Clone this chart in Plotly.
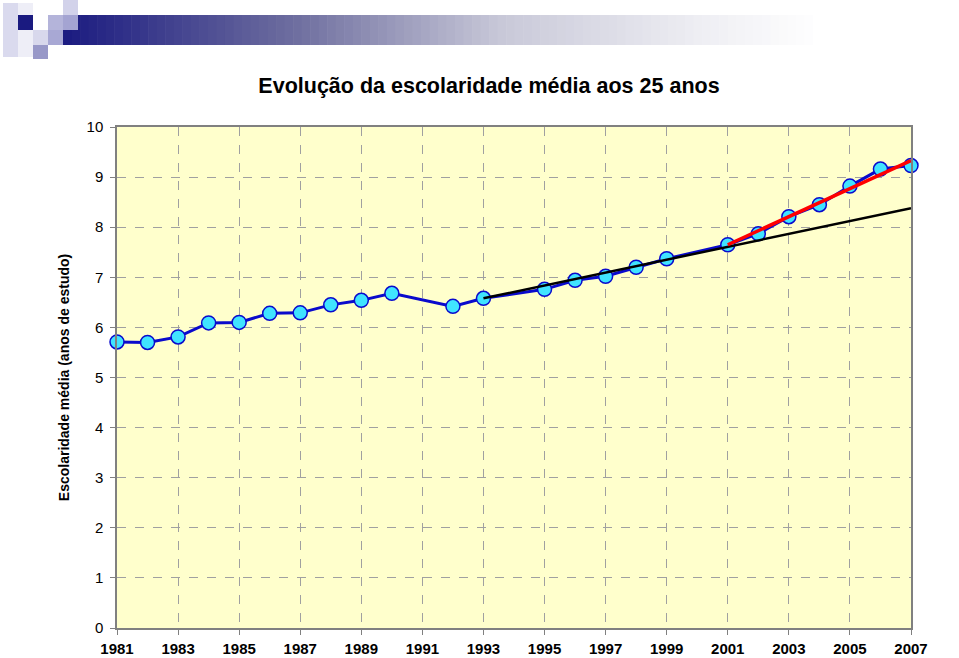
import plotly.graph_objects as go

# ---------------- data ----------------
years = [1981, 1982, 1983, 1984, 1985, 1986, 1987, 1988, 1989, 1990, 1992, 1993,
         1995, 1996, 1997, 1998, 1999, 2001, 2002, 2003, 2004, 2005, 2006, 2007]
schooling = [5.71, 5.70, 5.81, 6.09, 6.10, 6.28, 6.29, 6.45, 6.54, 6.68, 6.42, 6.58,
             6.76, 6.94, 7.02, 7.20, 7.37, 7.65, 7.87, 8.21, 8.45, 8.82, 9.16, 9.23]
trend_black_x = [1993, 2007]
trend_black_y = [6.58, 8.38]
trend_red_x = [2001, 2007]
trend_red_y = [7.65, 9.33]
x_ticks = list(range(1981, 2008, 2))
y_ticks = list(range(0, 11))

title_text = "Evolução da escolaridade média aos 25 anos"
ytitle_text = "Escolaridade média (anos de estudo)"

# ---------------- layout geometry (pixels) ----------------
W, H = 959, 658
L, R, T, B = 117, 911, 127, 628


def px(x):
    return (x - L) / (R - L)


def py(y):
    return (B - y) / (B - T)


fig = go.Figure()

fig.add_trace(go.Scatter(
    x=years, y=schooling, mode="lines+markers",
    line=dict(color="#0A0ACC", width=3),
    marker=dict(size=14, color="#40E4FF", line=dict(color="#0A0ACC", width=1.5)),
    cliponaxis=False, showlegend=False))
fig.add_trace(go.Scatter(
    x=trend_black_x, y=trend_black_y, mode="lines",
    line=dict(color="#000000", width=2.5), showlegend=False))
fig.add_trace(go.Scatter(
    x=trend_red_x, y=trend_red_y, mode="lines",
    line=dict(color="#FF0000", width=3.5), cliponaxis=False, showlegend=False))

# ---------------- decoration (template header) ----------------
shapes = []


def rect(x0, y0, x1, y1, color):
    shapes.append(dict(type="rect", xref="paper", yref="paper",
                       x0=px(x0), x1=px(x1), y0=py(y1), y1=py(y0),
                       fillcolor=color, line=dict(width=0), layer="above"))


# gradient bar (piecewise colour stops, pixel x -> rgb)
stops = [(63, (26, 26, 128)), (300, (112, 112, 160)), (500, (200, 200, 216)),
         (700, (238, 238, 243)), (820, (255, 255, 255)), (959, (255, 255, 255))]


def grad_col(x):
    for (xa, ca), (xb, cb) in zip(stops[:-1], stops[1:]):
        if xa <= x <= xb:
            f = (x - xa) / (xb - xa)
            return tuple(int(round(ca[k] + (cb[k] - ca[k]) * f)) for k in range(3))
    return stops[-1][1]


n = 90
x_start, x_end = 63, 830
for i in range(n):
    xa = x_start + (x_end - x_start) * i / n
    xb = x_start + (x_end - x_start) * (i + 1) / n + 0.6
    rect(xa, 15, xb, 45, "rgb(%d,%d,%d)" % grad_col((xa + xb) / 2))

rect(3, 3, 18, 57, "#DADAEE")
rect(18, 3, 33, 57, "#EEEEF7")
rect(18, 15, 33, 30, "#1A1A80")
rect(48, 15, 63, 30, "#B4B4DA")
rect(63, 0, 78, 15, "#D2D2EA")
rect(63, 15, 78, 30, "#A4A4D2")
rect(33, 30, 48, 45, "#D8D8EC")
rect(48, 30, 63, 45, "#A8A8D4")
rect(33, 45, 48, 59, "#9898C8")

fig.update_layout(
    width=W, height=H,
    margin=dict(l=L, r=W - R, t=T, b=H - B, autoexpand=False),
    paper_bgcolor="white",
    plot_bgcolor="#FFFFCC",
    font=dict(family="Arial, Liberation Sans, sans-serif", color="black"),
    title=dict(text="<b>%s</b>" % title_text, x=489 / W, xanchor="center",
               y=1 - 85 / H, yanchor="middle", font=dict(size=21.5)),
    shapes=shapes,
    xaxis=dict(range=[1981, 2007], tickvals=x_ticks,
               ticktext=["<b>%d</b>" % v for v in x_ticks],
               tickfont=dict(size=15), ticks="outside", ticklen=5,
               tickcolor="#808080", ticklabelstandoff=1, automargin=False,
               showline=True, linecolor="#808080", linewidth=1.5, mirror=True,
               showgrid=True, gridcolor="#A0A0A0", griddash="dash", gridwidth=1,
               zeroline=False),
    yaxis=dict(range=[0, 10], tickvals=y_ticks,
               tickfont=dict(size=15), ticks="outside", ticklen=5,
               tickcolor="#808080", ticklabelstandoff=4, automargin=False,
               showline=True, linecolor="#808080", linewidth=1.5, mirror=True,
               showgrid=True, gridcolor="#A0A0A0", griddash="dash", gridwidth=1,
               zeroline=False,
               title=dict(text="<b>%s</b>" % ytitle_text, font=dict(size=14),
                          standoff=14)),
)

fig.write_html("out.html", config={"displayModeBar": False},
               post_script="document.body.style.margin='0';document.body.style.overflow='hidden';")
